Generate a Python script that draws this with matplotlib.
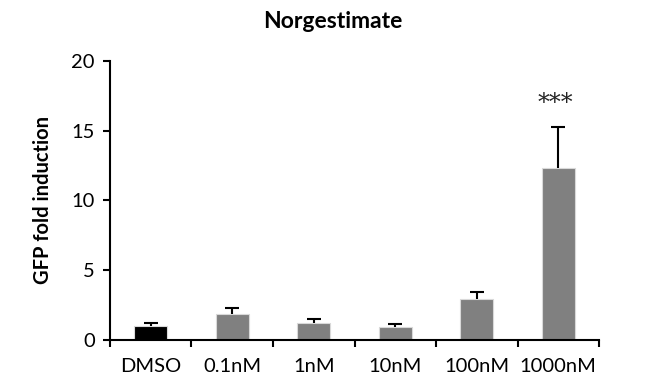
import numpy as np
import matplotlib.pyplot as plt

labels = ["DMSO", "0.1nM", "1nM", "10nM", "100nM", "1000nM"]
means = [1.0, 1.86, 1.19, 0.91, 2.91, 12.29]
errs = [0.24, 0.43, 0.29, 0.24, 0.53, 2.98]
colors = ["#000000", "#808080", "#808080", "#808080", "#808080", "#808080"]
stars = ["", "", "", "", "", "***"]

plt.rcParams['font.family'] = ['Lato', 'DejaVu Sans']

fig = plt.figure(figsize=(6.65, 3.87), dpi=100)
ax = fig.add_axes([0.1654, 0.1214, 0.7354, 0.7218])

x = np.arange(len(labels))
ax.bar(x, means, width=0.4, color=colors, edgecolor="#d9d9d9", linewidth=0.8, zorder=2)
# upper error only
_, caps, _ = ax.errorbar(x, means, yerr=[np.zeros(len(errs)), errs], fmt='none',
                         ecolor='black', elinewidth=1.5, capsize=5, capthick=1.5, zorder=3)
caps[0].remove()

for xi, s in zip(x, stars):
    if s:
        ax.text(xi - 0.04, 16.9, s, ha='center', va='center', fontsize=17,
                family='DejaVu Serif', color='#222222')

ax.set_xlim(-0.5, len(labels) - 0.5)
ax.set_ylim(0, 20)
ax.set_yticks([0, 5, 10, 15, 20])
ax.set_xticks(x)
ax.set_xticklabels(labels)
ax.set_xticks(np.arange(len(labels) + 1) - 0.5, minor=True)
ax.tick_params(axis='x', which='major', length=0, pad=13, labelsize=14.5)
ax.tick_params(axis='x', which='minor', length=5, width=1.5, direction='out')
ax.tick_params(axis='y', length=5, width=1.5, labelsize=14.5, pad=6)

for side in ['top', 'right']:
    ax.spines[side].set_visible(False)
for side in ['left', 'bottom']:
    ax.spines[side].set_linewidth(1.5)

ax.set_ylabel("GFP fold induction", fontsize=14.5, fontweight='bold', labelpad=13)
fig.text(0.5, 0.945, "Norgestimate", ha='center', va='center', fontsize=16.5, fontweight='bold')

fig.savefig("out.png", dpi=100)
